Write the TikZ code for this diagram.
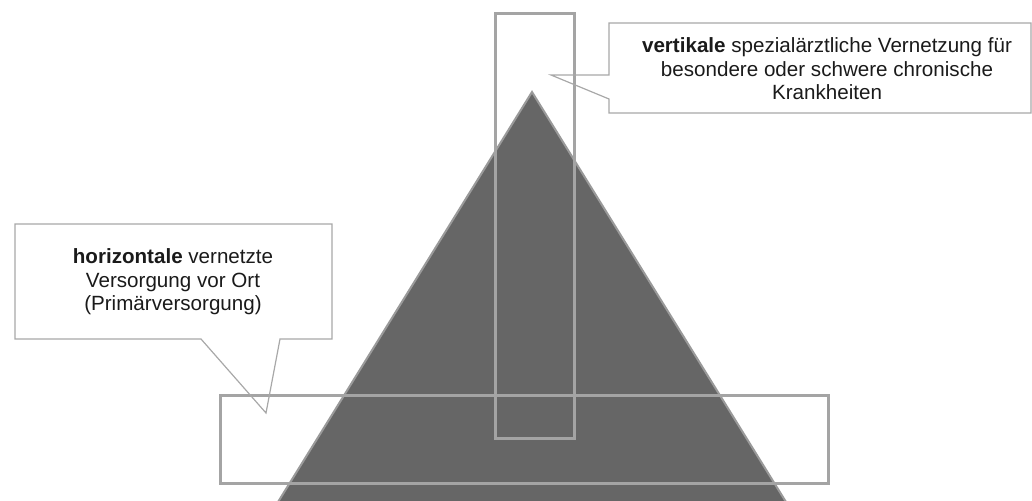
\documentclass[tikz,border=0pt]{standalone}
\usepackage{fontspec}
\setmainfont{Liberation Sans}
\begin{document}
\begin{tikzpicture}[x=1pt,y=-1pt,
  pyr/.style={fill=pyrfill,draw=pyrline,line width=2pt,line join=miter},
  band/.style={draw=bandline,line width=3pt},
  callout/.style={draw=calline,line width=1.2pt,line join=miter},
  caltext/.style={align=center,font=\fontsize{20.6}{23.6}\selectfont,inner sep=0pt,text=caltxt}]
\definecolor{pyrfill}{HTML}{666666}
\definecolor{pyrline}{HTML}{9A9A9A}
\definecolor{bandline}{HTML}{A4A4A4}
\definecolor{calline}{HTML}{A8A8A8}
\definecolor{caltxt}{HTML}{1A1A1A}
\useasboundingbox (0,0) rectangle (1032,500);
% pyramid
\coordinate (apex) at (532,92);
\coordinate (bl) at (278,502);
\coordinate (br) at (786,502);
\draw[pyr] (apex) -- (bl) -- (br) -- cycle;
% bands
\draw[band] (495,14) rectangle (574,438);
\draw[band] (220,395) rectangle (828,483);
% top callout
\coordinate (tA) at (609,23);
\coordinate (tB) at (1031,23);
\coordinate (tC) at (1031,113);
\coordinate (tD) at (609,113);
\coordinate (tE) at (609,99);
\coordinate (tTip) at (551,75);
\coordinate (tF) at (609,75);
\draw[callout] (tA) -- (tB) -- (tC) -- (tD) -- (tE) -- (tTip) -- (tF) -- cycle;
\node[caltext] (ttext) at (827,69) {\textbf{vertikale} spezialärztliche Vernetzung für\\besondere oder schwere chronische\\Krankheiten};
% left callout
\coordinate (lA) at (15,224);
\coordinate (lB) at (332,224);
\coordinate (lC) at (332,339);
\coordinate (lD) at (280,339);
\coordinate (lTip) at (266,413);
\coordinate (lE) at (201,339);
\coordinate (lF) at (15,339);
\draw[callout] (lA) -- (lB) -- (lC) -- (lD) -- (lTip) -- (lE) -- (lF) -- cycle;
\node[caltext] (ltext) at (173,282) {\textbf{horizontale} vernetzte\\Versorgung vor Ort\\(Primärversorgung)};
\end{tikzpicture}
\end{document}
